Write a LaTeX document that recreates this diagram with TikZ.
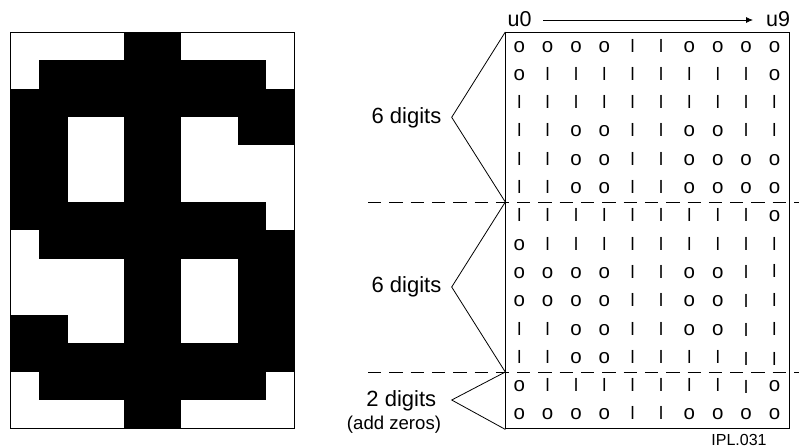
\documentclass[tikz,border=0pt]{standalone}
\usepackage{fontspec}
\setmainfont{Liberation Sans}
\usetikzlibrary{arrows.meta}
\newcommand\bitglyph[1]{\if#1l\fontsize{18}{20}\selectfont #1\else #1\fi}
\tikzset{
  frameline/.style={draw=black,line width=1.1pt},
  thinline/.style={draw=black,line width=0.8pt},
  cutline/.style={draw=black,line width=0.8pt,dash pattern=on 13.3pt off 8pt},
  bitcell/.style={inner sep=0pt,anchor=base,font=\fontsize{20.5}{24}\selectfont},
  lab/.style={inner sep=0pt,anchor=base,font=\fontsize{22}{24}\selectfont},
  smalllab/.style={inner sep=0pt,anchor=base,font=\fontsize{18.6}{20}\selectfont},
  idlab/.style={inner sep=0pt,anchor=base,font=\fontsize{16}{18}\selectfont},
}
\begin{document}
\begin{tikzpicture}[x=1pt,y=-1pt]
\useasboundingbox (0,0) rectangle (799,447);
% ---- left bitmap
\def\cw{28.37}\def\rh{28.32}
\foreach \r/\row in {
 0/{0,0,0,0,1,1,0,0,0,0},
 1/{0,1,1,1,1,1,1,1,1,0},
 2/{1,1,1,1,1,1,1,1,1,1},
 3/{1,1,0,0,1,1,0,0,1,1},
 4/{1,1,0,0,1,1,0,0,0,0},
 5/{1,1,0,0,1,1,0,0,0,0},
 6/{1,1,1,1,1,1,1,1,1,0},
 7/{0,1,1,1,1,1,1,1,1,1},
 8/{0,0,0,0,1,1,0,0,1,1},
 9/{0,0,0,0,1,1,0,0,1,1},
 10/{1,1,0,0,1,1,0,0,1,1},
 11/{1,1,1,1,1,1,1,1,1,1},
 12/{0,1,1,1,1,1,1,1,1,0},
 13/{0,0,0,0,1,1,0,0,0,0}}{
  \foreach \v [count=\c from 0] in \row {
    \ifnum\v=1
      \fill[black] ({10.8+\c*\cw-0.05},{32+\r*\rh-0.05}) rectangle ({10.8+(\c+1)*\cw+0.05},{32+(\r+1)*\rh+0.05});
    \fi
  }
}
\draw[black,line width=0.8pt] (10.8,32) rectangle (294.5,428.5);
% ---- right grid
\node[frameline,minimum width=283.4pt,minimum height=396.3pt,inner sep=0pt,anchor=north west] (grid) at (505.3,32) {};
\foreach \r/\row/\da/\db in {
 0/{o,o,o,o,l,l,o,o,o,o}/0/0,
 1/{o,l,l,l,l,l,l,l,l,o}/0/0,
 2/{l,l,l,l,l,l,l,l,l,l}/0/0,
 3/{l,l,o,o,l,l,o,o,l,l}/0/0,
 4/{l,l,o,o,l,l,o,o,o,o}/0/0,
 5/{l,l,o,o,l,l,o,o,o,o}/0/0,
 6/{l,l,l,l,l,l,l,l,l,o}/0/0,
 7/{o,l,l,l,l,l,l,l,l,l}/0/0,
 8/{o,o,o,o,l,l,o,o,l,l}/0.5/-0.5,
 9/{o,o,o,o,l,l,o,o,l,l}/1/0,
 10/{l,l,o,o,l,l,o,o,l,l}/1/0,
 11/{l,l,o,o,l,l,l,l,l,l}/2.5/2.5,
 12/{o,l,l,l,l,l,l,l,l,o}/2/0,
 13/{o,o,o,o,l,l,o,o,o,o}/0/0}{
  \foreach \ltr [count=\c from 0] in \row {
    \pgfmathsetmacro{\dy}{\c==8 ? \da : (\c==9 ? \db : 0)}
    \node[bitcell] (b\r-\c) at ({519.3+\c*28.35},{52+\r*28.3+\dy}) {\bitglyph{\ltr}};
  }
}
% ---- axis
\node[lab,font=\fontsize{21.5}{24}\selectfont] (u0) at (519.5,26) {u0};
\node[lab,font=\fontsize{21.5}{24}\selectfont] (u9) at (778,26) {u9};
\coordinate (as) at (543.3,20);
\coordinate (ae) at (753,20);
\draw[thinline,-{Latex[length=7pt,width=6pt]}] (as) -- (ae);
% ---- cut lines
\coordinate (c1l) at (368,202); \coordinate (c1r) at (799,202);
\coordinate (c2l) at (368,372); \coordinate (c2r) at (799,372);
\draw[cutline] (c1l) -- (c1r);
\draw[cutline] (c2l) -- (c2r);
% ---- braces
\coordinate (t1) at (451.7,117.3);
\coordinate (t2) at (451.7,287);
\coordinate (t3) at (451.7,400);
\coordinate (m1) at (505.3,202);
\coordinate (m2) at (505.3,372);
\draw[thinline] (grid.north west) -- (t1) -- (m1) -- (t2) -- (m2) -- (t3) -- (grid.south west);
\node[lab,anchor=base east] (d1) at (441.5,123) {6 digits};
\node[lab,anchor=base east] (d2) at (441.5,292) {6 digits};
\node[lab,anchor=base] (d3) at (401.3,406.5) {2 digits};
\node[smalllab,anchor=base] (d4) at (394,429.5) {(add zeros)};
\node[idlab] (ipl) at (739,445) {IPL.031};
\end{tikzpicture}
\end{document}
